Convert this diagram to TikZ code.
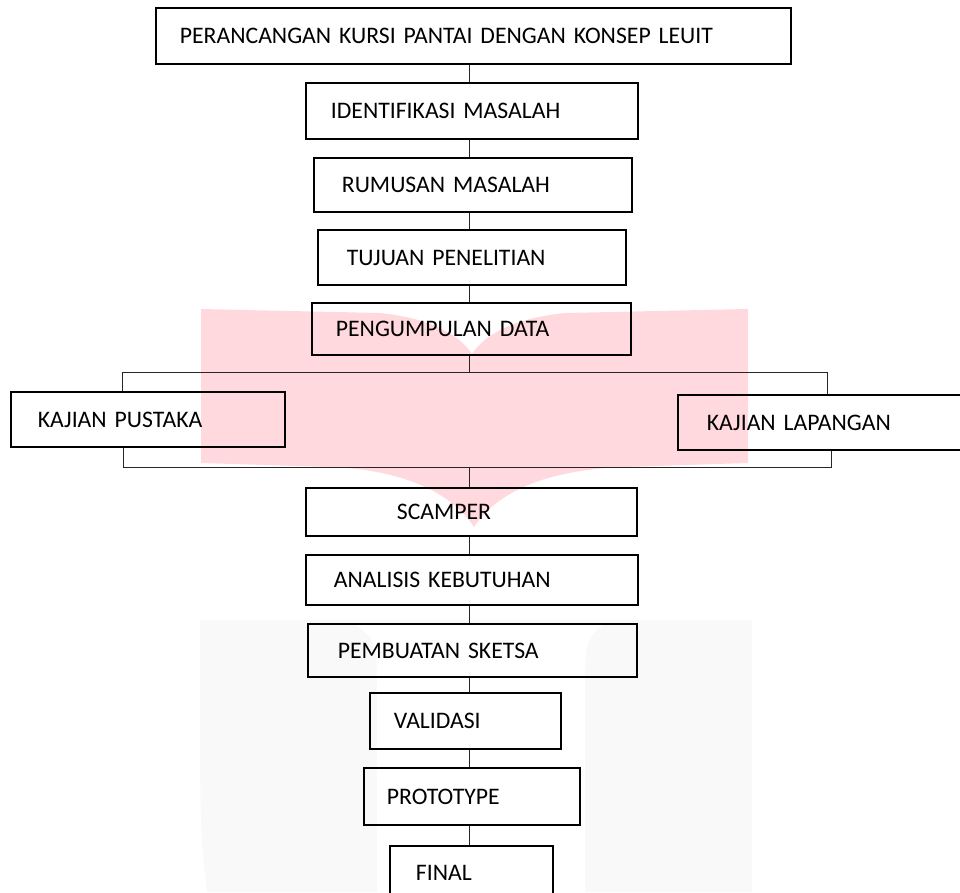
\documentclass[tikz,border=0pt]{standalone}
\usepackage{fontspec}
\setmainfont{Carlito}
\definecolor{wmpink}{RGB}{255,217,221}
\definecolor{wmgray}{RGB}{249,249,249}
\tikzset{
  box/.style={draw,line width=1.8pt,anchor=north west,inner ysep=0pt,align=left,
    text height=15.3pt,text depth=0pt,font=\fontsize{23.7}{28}\selectfont},
  link/.style={line width=1pt,black!85}
}

\begin{document}
\begin{tikzpicture}[x=1pt,y=-1pt]
\useasboundingbox (0,0) rectangle (960,892);
% watermark in the background
\fill[wmgray] (200,620) -- (752,620) -- (752,892) -- (207,892) .. controls (201,840) .. (200,760) -- cycle;
\fill[white] (353,623) -- (605,623) .. controls (585,640) .. (585,700) -- (585,892) -- (377,892) -- (377,700) .. controls (377,640) .. (353,623) -- cycle;
\fill[wmpink] (201,309) -- (380,313) .. controls (430,318) and (460,335) .. (472,354)
  .. controls (484,335) and (514,318) .. (565,313) -- (748,309) -- (748,463) -- (625,467)
  .. controls (540,470) and (495,495) .. (474,527) .. controls (453,495) and (408,470) .. (330,467)
  -- (201,463) -- cycle;

\node[box,text width=587pt,inner xsep=24pt,minimum height=56pt] (title) at (155,7) {PERANCANGAN KURSI PANTAI DENGAN KONSEP LEUIT};
\node[box,text width=282pt,inner xsep=25pt,minimum height=56pt] (ident) at (305,82) {IDENTIFIKASI MASALAH};
\node[box,text width=262pt,inner xsep=28pt,minimum height=54pt] (rumusan) at (313,157) {RUMUSAN MASALAH};
\node[box,text width=250pt,inner xsep=29pt,minimum height=55pt] (tujuan) at (317,229) {TUJUAN PENELITIAN};
\node[box,text width=271pt,inner xsep=24pt,minimum height=52pt] (pengumpulan) at (311,302) {PENGUMPULAN DATA};
\node[box,text width=220pt,inner xsep=27pt,minimum height=55pt] (pustaka) at (10,391) {KAJIAN PUSTAKA};
\node[box,text width=252pt,inner xsep=29pt,minimum height=55pt] (lapangan) at (677,394) {KAJIAN LAPANGAN};
\node[box,text width=149pt,inner xsep=91pt,minimum height=48pt] (scamper) at (305,487) {SCAMPER};
\node[box,text width=276pt,inner xsep=28pt,minimum height=50pt] (analisis) at (305,554) {ANALISIS KEBUTUHAN};
\node[box,text width=269pt,inner xsep=30pt,minimum height=53pt] (sketsa) at (307,623) {PEMBUATAN SKETSA};
\node[box,text width=143pt,inner xsep=24pt,minimum height=56pt] (validasi) at (369,692) {VALIDASI};
\node[box,text width=170pt,inner xsep=23pt,minimum height=57pt] (prototype) at (363,767) {PROTOTYPE};
\node[box,text width=111pt,inner xsep=26pt,minimum height=53pt] (final) at (389,845) {FINAL};

\coordinate (spine) at (469,0);
\coordinate (splitL) at (122,372);
\coordinate (split) at (469,372);
\coordinate (splitR) at (827,372);
\coordinate (mergeL) at (123,467);
\coordinate (merge) at (469,467);
\coordinate (mergeR) at (831,467);

\draw[link] (title.south -| spine) -- (ident.north -| spine);
\draw[link] (ident.south -| spine) -- (rumusan.north -| spine);
\draw[link] (rumusan.south -| spine) -- (tujuan.north -| spine);
\draw[link] (tujuan.south -| spine) -- (pengumpulan.north -| spine);
\draw[link] (pengumpulan.south -| spine) -- (split);
\draw[link] (pustaka.north -| splitL) -- (splitL) -- (splitR) -- (lapangan.north -| splitR);
\draw[link] (pustaka.south -| mergeL) -- (mergeL) -- (mergeR) -- (lapangan.south -| mergeR);
\draw[link] (merge) -- (scamper.north -| spine);
\draw[link] (scamper.south -| spine) -- (analisis.north -| spine);
\draw[link] (analisis.south -| spine) -- (sketsa.north -| spine);
\draw[link] (sketsa.south -| spine) -- (validasi.north -| spine);
\draw[link] (validasi.south -| spine) -- (prototype.north -| spine);
\draw[link] (prototype.south -| spine) -- (final.north -| spine);
\end{tikzpicture}
\end{document}
